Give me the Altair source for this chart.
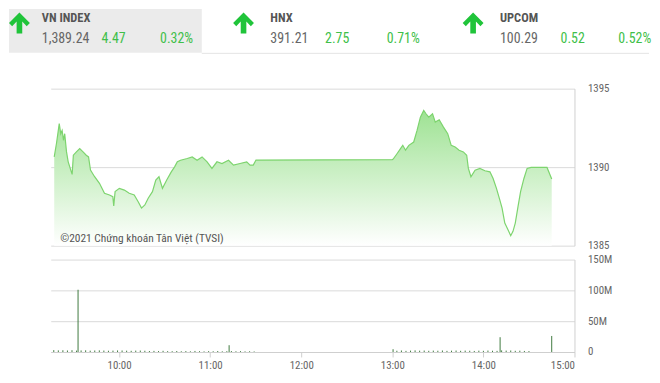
import altair as alt
import pandas as pd

# ---------------- data ----------------
price_minutes = [17.3, 18.8, 20.6, 21.6, 22.5, 23.4, 24.2, 25.4, 26.5, 28.2, 29.1, 29.9, 31.9, 34.1,
                 36.3, 38.4, 39.9, 41.2, 43.9, 47.1, 50.4, 53.7, 55.9, 56.5, 57.4, 60.2, 63.5, 66.7,
                 70.0, 72.6, 74.8, 77.0, 79.2, 82.0, 84.2, 86.3, 88.6, 91.4, 94.4, 96.6, 98.4, 100.5,
                 104.9, 108.2, 111.4, 114.7, 118.0, 121.2, 124.5, 127.8, 132.1, 135.4, 139.7, 144.1,
                 146.3, 148.4, 150.2, 240.0, 240.6, 243.2, 245.4, 246.9, 248.7, 250.9, 254.1, 256.3,
                 258.5, 260.7, 262.2, 264.0, 266.5, 268.3, 270.9, 273.7, 276.5, 278.8, 281.4, 284.0,
                 286.8, 289.0, 290.1, 291.8, 294.5, 297.7, 301.0, 304.3, 306.4, 308.6, 310.8, 312.3,
                 314.1, 316.2, 318.0, 319.5, 321.0, 322.8, 324.5, 326.7, 328.8, 331.4, 338.0, 341.9,
                 345.0]
price_values = [1390.65, 1391.52, 1392.77, 1392.13, 1392.34, 1391.71, 1392.13, 1390.97, 1390.34,
                1389.81, 1389.54, 1390.76, 1390.97, 1391.18, 1390.97, 1390.76, 1390.65, 1389.81,
                1389.39, 1388.97, 1388.34, 1388.23, 1388.12, 1387.53, 1388.44, 1388.65, 1388.54,
                1388.34, 1388.23, 1387.80, 1387.39, 1387.59, 1388.02, 1388.44, 1389.18, 1389.39,
                1388.65, 1389.18, 1389.70, 1390.02, 1390.34, 1390.44, 1390.55, 1390.65, 1390.44,
                1390.65, 1390.34, 1389.92, 1390.34, 1390.23, 1390.44, 1390.13, 1390.23, 1390.34,
                1390.13, 1390.13, 1390.45, 1390.48, 1390.51, 1390.87, 1391.18, 1391.39, 1391.08,
                1391.39, 1391.60, 1392.34, 1393.18, 1393.61, 1393.40, 1393.18, 1393.40, 1392.87,
                1393.02, 1392.55, 1392.13, 1391.39, 1391.28, 1391.08, 1390.97, 1390.76, 1389.92,
                1389.39, 1389.81, 1389.92, 1389.77, 1389.70, 1389.28, 1388.65, 1387.91, 1387.39,
                1386.44, 1386.01, 1385.63, 1385.91, 1386.44, 1387.49, 1388.44, 1389.28, 1389.92,
                1389.98, 1389.98, 1389.98, 1389.24]

vol_minutes = [17, 20, 23, 26, 29, 32, 33, 35, 38, 41, 44, 47, 50, 53, 56, 59,
               62, 65, 68, 71, 74, 77, 80, 83, 86, 89, 92, 95, 98, 101, 104, 107, 110, 113, 116, 119,
               122, 125, 128, 131, 132.5, 134, 137, 140, 143, 146, 149,
               240.5, 243, 246, 249, 252, 255, 258, 261, 264, 267, 270, 273, 276, 279, 282, 285, 288,
               291, 294, 297, 300, 303, 306, 309, 311, 312, 315, 318, 321, 324, 327, 330, 345]
vol_values = [3.0, 2.6, 2.8, 2.4, 2.9, 2.2, 101, 2.5, 2.7, 2.1, 2.4, 2.6, 2.3, 2.0, 2.2, 2.5,
              2.4, 2.1, 1.9, 2.2, 2.3, 2.0, 1.6, 1.8, 1.5, 1.9, 1.4, 1.3, 1.6, 1.2, 1.5, 1.1, 1.7, 1.3, 1.0, 1.4,
              1.2, 1.6, 1.1, 1.3, 11, 1.5, 1.2, 1.4, 1.0, 1.2, 0.9,
              4.5, 2.0, 2.4, 1.8, 2.2, 2.6, 2.1, 2.3, 1.9, 2.2, 2.0, 2.4, 1.8, 2.1, 2.3, 1.9, 2.2,
              2.0, 1.7, 2.1, 1.9, 2.3, 2.0, 1.8, 24, 2.6, 2.2, 2.4, 1.9, 2.1, 1.7, 1.5, 26]

index_names = ["VN INDEX", "HNX", "UPCOM"]
index_levels = ["1,389.24", "391.21", "100.29"]
index_changes = ["4.47", "2.75", "0.52"]
index_pcts = ["0.32%", "0.71%", "0.52%"]

price_ticks = [1385, 1390, 1395]
vol_ticks = [0, 50, 100, 150]
time_ticks = [60, 120, 180, 240, 300, 360]
time_labels = ["10:00", "11:00", "12:00", "13:00", "14:00", "15:00"]
watermark = "©2021 Chứng khoán Tân Việt (TVSI)"

# ---------------- style ----------------
FONT = "Liberation Sans Narrow, Roboto Condensed, DejaVu Sans Condensed, Roboto, sans-serif"
W, H1, H2 = 527, 158, 93
XDOM = [15, 360]
GREEN_TXT = "#3fbf4a"
ARROW = "#20c43a"
GRID = "#dadada"
AXIS_TXT = dict(labelFont=FONT, labelFontSize=11, labelColor="#666", title=None)


def one(val):
    return pd.DataFrame({"t": [val]})


price_df = pd.DataFrame({"m": price_minutes, "v": price_values})
vol_df = pd.DataFrame({"m": vol_minutes, "vol": vol_values})

x_scale = alt.Scale(domain=XDOM, nice=False, zero=False)
x_price = alt.X("m:Q", scale=x_scale, axis=None)
y_price = alt.Y("v:Q", scale=alt.Scale(domain=[1385, 1395], nice=False, zero=False),
                axis=alt.Axis(orient="right", values=price_ticks, grid=True, gridColor=GRID,
                              format="d", domain=True, domainColor="#d0d0d0", ticks=False,
                              labelPadding=13, **AXIS_TXT))

area = alt.Chart(price_df).mark_area(
    color=alt.Gradient(gradient="linear",
                       stops=[alt.GradientStop(color="#9ee293", offset=0),
                              alt.GradientStop(color="#ffffff", offset=1)],
                       x1=1, x2=1, y1=0, y2=1)
).encode(x=x_price, y=y_price, y2=alt.datum(1385))

line = alt.Chart(price_df).mark_line(color="#7dd46e", strokeWidth=1.2).encode(x=x_price, y=y_price)

wm = alt.Chart(one(watermark)).mark_text(align="left", baseline="middle", font=FONT, fontSize=11.5,
                                         color="#555").encode(
    x=alt.value(9.5), y=alt.value(151), text="t:N")

# header (positions relative to the price plot origin, which sits at page (50, 88))
hdr_bg = alt.Chart(one(0)).mark_rect(color="#ebebeb").encode(
    x=alt.value(-42), x2=alt.value(152), y=alt.value(-80), y2=alt.value(-36))
hdr_sep = alt.Chart(one(0)).mark_rule(color="#e4e4e4").encode(
    x=alt.value(152), x2=alt.value(602), y=alt.value(-35.5))

arrow_path = "M0,-1 L1,0 L0.7,0.3 L0.27,-0.14 L0.27,1 L-0.27,1 L-0.27,-0.14 L-0.7,0.3 L-1,0 Z"
name_x = [-9, 221, 452]
chg_x = [51, 276, 513]
pct_x = [110, 338, 571]
arrow_x = [-31.5, 194, 425]

hdr_layers = []
for i in range(3):
    hdr_layers.append(alt.Chart(one(0)).mark_point(shape=arrow_path, filled=True, size=440,
                                                    color=ARROW, opacity=1).encode(
        x=alt.value(arrow_x[i]), y=alt.value(-66)))
    hdr_layers.append(alt.Chart(one(index_names[i])).mark_text(
        align="left", baseline="alphabetic", font=FONT, fontSize=12.5, fontWeight="bold",
        color="#555").encode(x=alt.value(name_x[i]), y=alt.value(-67.5), text="t:N"))
    hdr_layers.append(alt.Chart(one(index_levels[i])).mark_text(
        align="left", baseline="alphabetic", font=FONT, fontSize=14, color="#666").encode(
        x=alt.value(name_x[i]), y=alt.value(-45.5), text="t:N"))
    hdr_layers.append(alt.Chart(one(index_changes[i])).mark_text(
        align="left", baseline="alphabetic", font=FONT, fontSize=14, color=GREEN_TXT).encode(
        x=alt.value(chg_x[i]), y=alt.value(-45.5), text="t:N"))
    hdr_layers.append(alt.Chart(one(index_pcts[i])).mark_text(
        align="left", baseline="alphabetic", font=FONT, fontSize=14, color=GREEN_TXT).encode(
        x=alt.value(pct_x[i]), y=alt.value(-45.5), text="t:N"))

price_chart = alt.layer(hdr_bg, hdr_sep, *hdr_layers, area, line, wm).properties(width=W, height=H1)

# ---------------- volume panel ----------------
label_expr = ("[" + ",".join("'%s'" % s for s in time_labels) + "][indexof([" +
              ",".join(str(v) for v in time_ticks) + "], datum.value)]")
x_vol = alt.X("m:Q", scale=x_scale,
              axis=alt.Axis(orient="bottom", values=time_ticks, labelExpr=label_expr, grid=False,
                            domainColor="#cfcfcf", tickColor="#cfcfcf", tickSize=5, labelPadding=3,
                            **AXIS_TXT))
y_vol = alt.Y("vol:Q", scale=alt.Scale(domain=[0, 150], nice=False),
              axis=alt.Axis(orient="right", values=vol_ticks, grid=True, gridColor=GRID,
                            domain=True, domainColor="#d0d0d0", ticks=False, labelPadding=13,
                            labelExpr="datum.value == 0 ? '0' : datum.value + 'M'", **AXIS_TXT))
bars = alt.Chart(vol_df).mark_rule(color="#3f7a3f", strokeWidth=1).encode(
    x=x_vol, y=y_vol, y2=alt.datum(0))
pad_rule = alt.Chart(one(0)).mark_rule(color="#ffffff", strokeWidth=0.5).encode(
    x=alt.value(-42), y=alt.value(0), y2=alt.value(1))
vol_chart = alt.layer(pad_rule, bars).properties(width=W, height=H2)

chart = alt.vconcat(price_chart, vol_chart, spacing=3, padding=0).configure_view(stroke=None)

chart.save("out.html", embed_options={"renderer": "svg", "actions": False})
